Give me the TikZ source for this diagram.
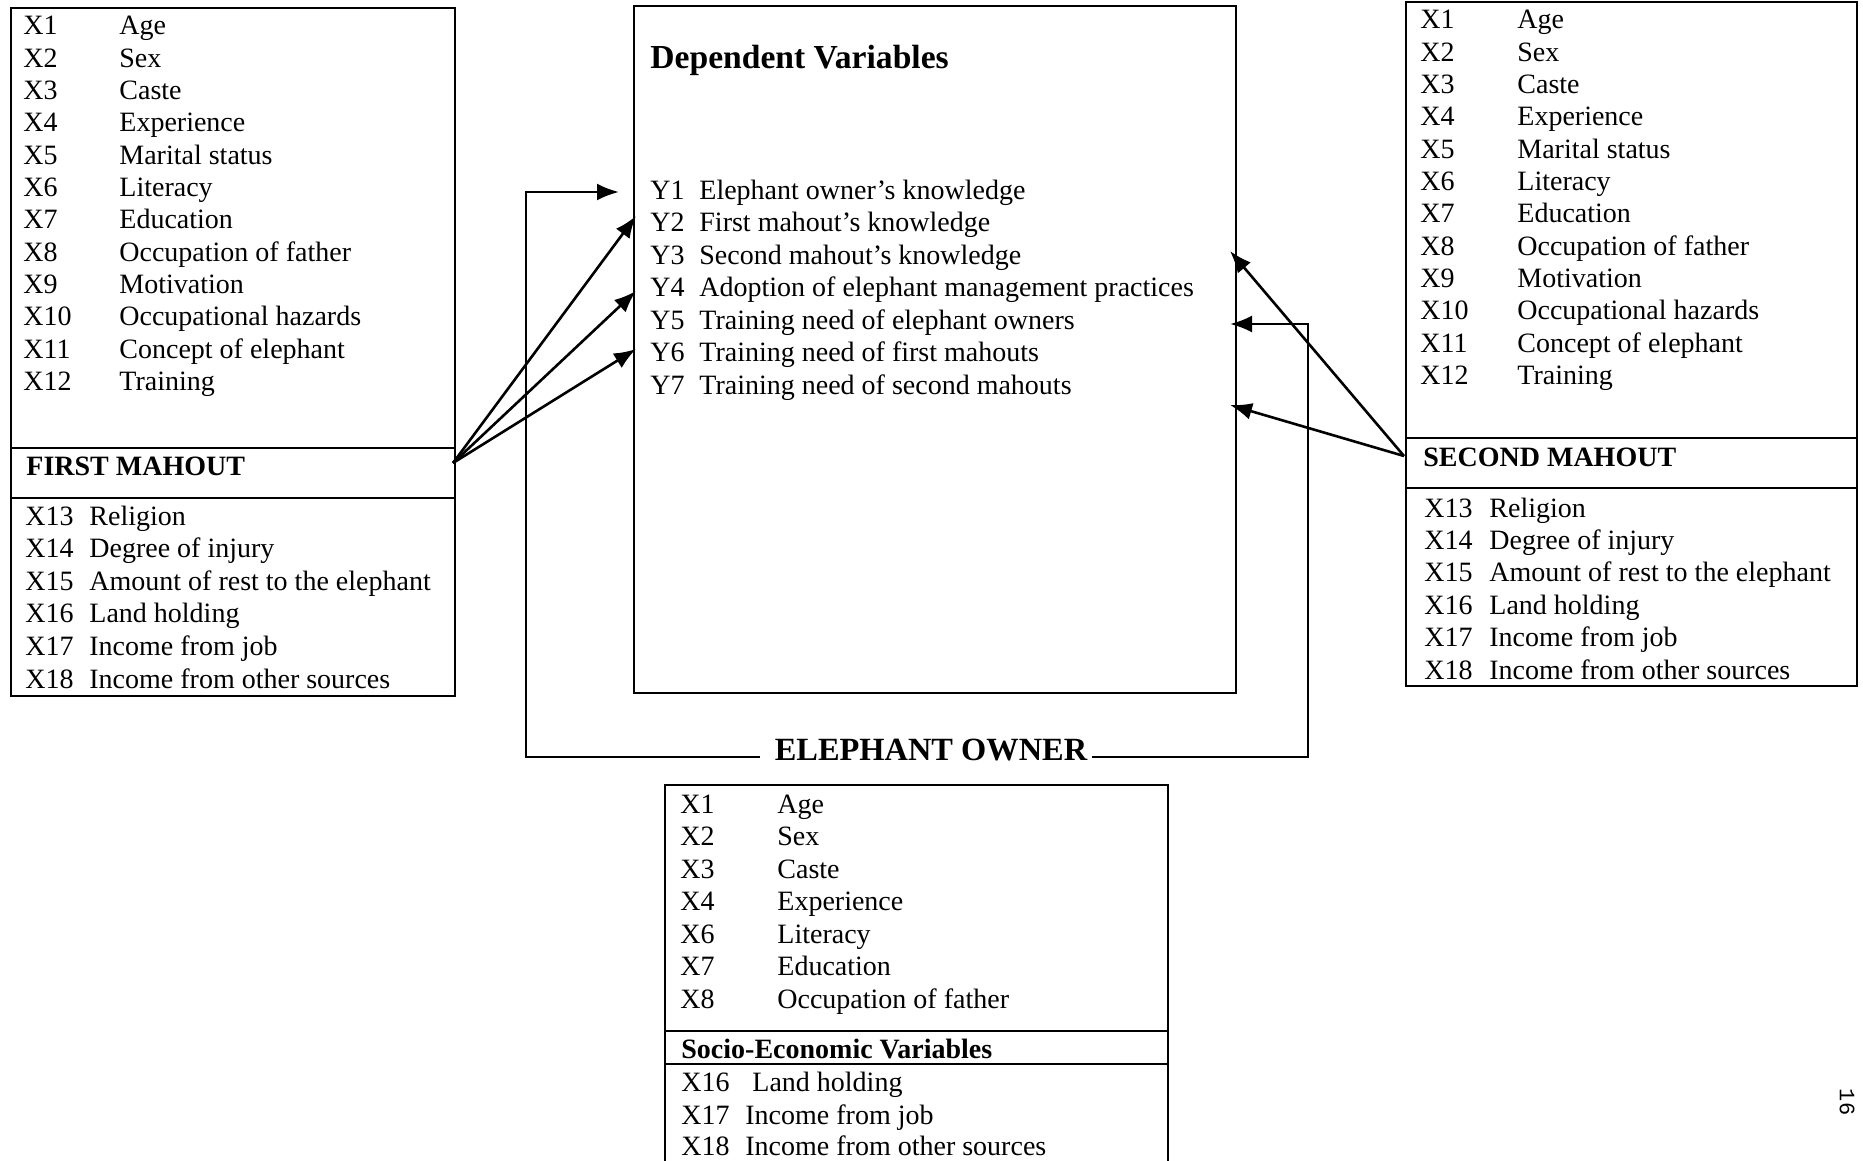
\documentclass[tikz,border=0pt]{standalone}
\usepackage{fontspec}
\setmainfont{Liberation Serif}
\newfontfamily\pgfont{Liberation Mono}
\usetikzlibrary{arrows.meta}
\begin{document}
\begin{tikzpicture}[x=0.5pt,y=-0.5pt,
  boxline/.style={line width=1pt},
  arr/.style={line width=1.3pt,-{Latex[length=11pt,width=8.5pt]}},
  txt/.style={inner sep=0pt,anchor=base west,font=\fontsize{14}{16}\selectfont},
  head/.style={inner sep=0pt,anchor=base west,font=\fontsize{14}{16}\selectfont\bfseries},
  bighead/.style={inner sep=0pt,anchor=base west,font=\fontsize{16.8}{19}\selectfont\bfseries}]
\useasboundingbox (0,0) rectangle (1863,1161);

% ---------- First mahout box ----------
\draw[boxline] (11,8) rectangle (455,696);
\draw[boxline] (11,448) -- (455,448);
\draw[boxline] (11,498) -- (455,498);
\foreach \l/\d [count=\i from 0] in {X1/Age,X2/Sex,X3/Caste,X4/Experience,X5/Marital status,X6/Literacy,X7/Education,X8/Occupation of father,X9/Motivation,X10/Occupational hazards,X11/Concept of elephant,X12/Training}{
  \node[txt] (fmL\i) at (23,{35+32.3*\i}) {\l};
  \node[txt] (fmD\i) at (119,{35+32.3*\i}) {\d};
}
\node[head] (fmHead) at (26,475) {FIRST MAHOUT};
\foreach \l/\d [count=\i from 0] in {X13/Religion,X14/Degree of injury,X15/Amount of rest to the elephant,X16/Land holding,X17/Income from job,X18/Income from other sources}{
  \node[txt] (fmB\i) at (25,{525+32.6*\i}) {\l};
  \node[txt] (fmE\i) at (89,{525+32.6*\i}) {\d};
}

% ---------- Dependent variables box ----------
\draw[boxline] (634,6) rectangle (1236,693);
\node[bighead] (depHead) at (650,69) {Dependent Variables};
\foreach \l/\d [count=\i from 0] in {Y1/Elephant owner's knowledge,Y2/First mahout's knowledge,Y3/Second mahout's knowledge,Y4/Adoption of elephant management practices,Y5/Training need of elephant owners,Y6/Training need of first mahouts,Y7/Training need of second mahouts}{
  \node[txt] (dY\i) at (650,{199+32.5*\i}) {\l};
  \node[txt] (dD\i) at (699,{199+32.5*\i}) {\d};
}

% ---------- Second mahout box ----------
\draw[boxline] (1406,2) rectangle (1857,686);
\draw[boxline] (1406,438) -- (1857,438);
\draw[boxline] (1406,488) -- (1857,488);
\foreach \l/\d [count=\i from 0] in {X1/Age,X2/Sex,X3/Caste,X4/Experience,X5/Marital status,X6/Literacy,X7/Education,X8/Occupation of father,X9/Motivation,X10/Occupational hazards,X11/Concept of elephant,X12/Training}{
  \node[txt] (smL\i) at (1420,{29+32.3*\i}) {\l};
  \node[txt] (smD\i) at (1517,{29+32.3*\i}) {\d};
}
\node[head] (smHead) at (1423,466) {SECOND MAHOUT};
\foreach \l/\d [count=\i from 0] in {X13/Religion,X14/Degree of injury,X15/Amount of rest to the elephant,X16/Land holding,X17/Income from job,X18/Income from other sources}{
  \node[txt] (smB\i) at (1424,{517+32.4*\i}) {\l};
  \node[txt] (smE\i) at (1489,{517+32.4*\i}) {\d};
}

% ---------- Elephant owner box ----------
\draw[boxline] (665,1161) -- (665,785) -- (1168,785) -- (1168,1161);
\draw[boxline] (665,1031) -- (1168,1031);
\draw[boxline] (665,1064) -- (1168,1064);
\foreach \l/\d [count=\i from 0] in {X1/Age,X2/Sex,X3/Caste,X4/Experience,X6/Literacy,X7/Education,X8/Occupation of father}{
  \node[txt] (eoL\i) at (680,{813+32.5*\i}) {\l};
  \node[txt] (eoD\i) at (777,{813+32.5*\i}) {\d};
}
\node[head] (eoHead) at (681,1058) {Socio-Economic Variables};
\node[txt] (eoB0) at (681,1091) {X16};
\node[txt] (eoE0) at (752,1091) {Land holding};
\node[txt] (eoB1) at (681,1124) {X17};
\node[txt] (eoE1) at (745,1124) {Income from job};
\node[txt] (eoB2) at (681,1155) {X18};
\node[txt] (eoE2) at (745,1155) {Income from other sources};

% ---------- Elephant owner label and connector ----------
\node[font=\fontsize{16.2}{18}\selectfont\bfseries,inner sep=0pt,anchor=base] (eo) at (931,760) {ELEPHANT OWNER};
\coordinate (eoLend) at ([xshift=-7pt]eo.west);
\coordinate (eoRend) at ([xshift=2pt]eo.east);
\coordinate (eoBL) at (526,757);
\coordinate (eoBR) at (1308,757);
\coordinate (tipY1) at (619,192);
\coordinate (tipR2) at (1230,324);
\draw[arr] (eoLend |- eoBL) -- (eoBL) |- (tipY1);
\draw[arr] (eoRend |- eoBR) -- (eoBR) |- (tipR2);

% ---------- First mahout arrows ----------
\coordinate (fmOut) at (453,463);
\coordinate (tipL1) at (636,216);
\coordinate (tipL2) at (636,291);
\coordinate (tipL3) at (636,349);
\draw[arr] (fmOut) -- (tipL1);
\draw[arr] (fmOut) -- (tipL2);
\draw[arr] (fmOut) -- (tipL3);

% ---------- Second mahout arrows ----------
\coordinate (smOut) at (1404,456);
\coordinate (tipR1) at (1230,251);
\coordinate (tipR3) at (1230,405);
\draw[arr] (smOut) -- (tipR1);
\draw[arr] (smOut) -- (tipR3);

% ---------- page number ----------
\node[font=\pgfont\fontsize{11}{12}\selectfont,rotate=-90,inner sep=0pt] (pg) at (1847,1102) {16};
\end{tikzpicture}
\end{document}
